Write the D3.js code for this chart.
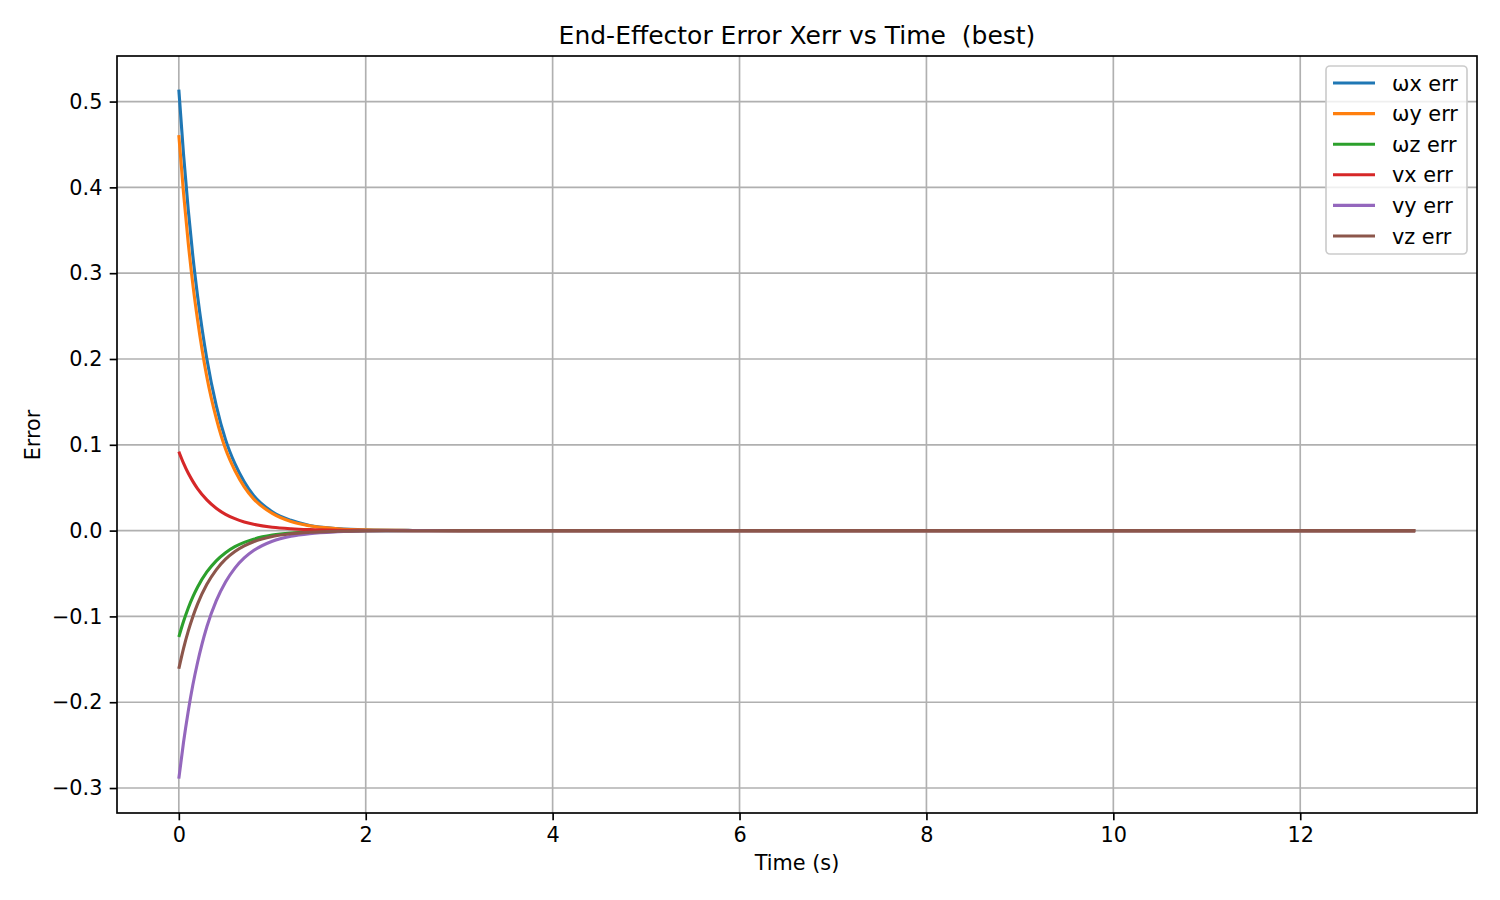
<!DOCTYPE html>
<html><head><meta charset="utf-8">
<script src="https://cdn.jsdelivr.net/npm/d3@7"></script>
<style>body{margin:0;background:#fff;} svg text{font-family:"DejaVu Sans",sans-serif;}</style>
</head><body><svg id="c" width="1500" height="900"></svg>
<script>
const times = [0, 0.05, 0.1, 0.15, 0.2, 0.3, 0.4, 0.5, 0.6, 0.7, 0.8, 1.0, 1.2, 1.4, 1.7, 2.0, 2.5, 3.0, 13.23];
const wxErr = [0.514, 0.439, 0.375, 0.320, 0.274, 0.200, 0.146, 0.106, 0.078, 0.057, 0.041, 0.022, 0.012, 0.006, 0.0024, 0.0009, 0.0002, 0, 0];
const wyErr = [0.461, 0.394, 0.336, 0.287, 0.246, 0.179, 0.131, 0.095, 0.070, 0.051, 0.037, 0.020, 0.0105, 0.0056, 0.0022, 0.0008, 0.0002, 0, 0];
const wzErr = [-0.124, -0.106, -0.0905, -0.0773, -0.066, -0.0482, -0.0352, -0.0257, -0.0187, -0.0137, -0.010, -0.0053, -0.0028, -0.0015, -0.0006, -0.0002, 0, 0, 0];
const vxErr = [0.092, 0.0786, 0.0671, 0.0574, 0.049, 0.0358, 0.0261, 0.019, 0.0139, 0.0101, 0.0074, 0.0039, 0.0021, 0.0011, 0.0004, 0.0002, 0, 0, 0];
const vyErr = [-0.289, -0.247, -0.211, -0.180, -0.154, -0.112, -0.082, -0.060, -0.0437, -0.0319, -0.0233, -0.0124, -0.0066, -0.0035, -0.0014, -0.0005, -0.0001, 0, 0];
const vzErr = [-0.161, -0.1375, -0.1175, -0.1004, -0.0857, -0.0626, -0.0457, -0.0333, -0.0243, -0.0178, -0.013, -0.0069, -0.0037, -0.002, -0.0008, -0.0003, -0.0001, 0, 0];
const seriesNames = ["ωx err", "ωy err", "ωz err", "vx err", "vy err", "vz err"];
const seriesColors = ["#1f77b4", "#ff7f0e", "#2ca02c", "#d62728", "#9467bd", "#8c564b"];
const xTicks = [0, 2, 4, 6, 8, 10, 12];
const yTicks = [-0.3, -0.2, -0.1, 0.0, 0.1, 0.2, 0.3, 0.4, 0.5];

const seriesValues = [wxErr, wyErr, wzErr, vxErr, vyErr, vzErr];
const svg = d3.select("#c");
const L = 117, R = 1477, T = 56, B = 813;
const x = d3.scaleLinear().domain([-0.6615, 13.8915]).range([L, R]);
const y = d3.scaleLinear().domain([-0.3291, 0.5531]).range([B, T]);
const fmt = d3.format(".1f");
const FS = "20.8px", TFS = "25px";

// grid
const g = svg.append("g");
g.selectAll("line.vx").data(xTicks).join("line")
  .attr("x1", d => x(d)).attr("x2", d => x(d)).attr("y1", T).attr("y2", B)
  .attr("stroke", "#b0b0b0").attr("stroke-width", 1.67);
g.selectAll("line.hy").data(yTicks).join("line").attr("class","hy")
  .attr("x1", L).attr("x2", R).attr("y1", d => y(d)).attr("y2", d => y(d))
  .attr("stroke", "#b0b0b0").attr("stroke-width", 1.67);

// lines
const line = d3.line().x((d, i) => x(times[i])).y(d => y(d)).curve(d3.curveMonotoneX);
seriesValues.forEach((vals, k) => {
  svg.append("path").datum(vals).attr("d", line)
    .attr("fill", "none").attr("stroke", seriesColors[k]).attr("stroke-width", 3.1);
});

// axes
const xa = svg.append("g").attr("transform", `translate(0,${B})`)
  .call(d3.axisBottom(x).tickValues(xTicks).tickSize(7.3).tickPadding(6.5).tickFormat(d3.format("d")));
const ya = svg.append("g").attr("transform", `translate(${L},0)`)
  .call(d3.axisLeft(y).tickValues(yTicks).tickSize(7.3).tickPadding(7.3).tickFormat(fmt));
[xa, ya].forEach(a => {
  a.attr("font-size", null).attr("font-family", null);
  a.select(".domain").remove();
  a.selectAll(".tick line").attr("stroke", "#000").attr("stroke-width", 1.67);
  a.selectAll(".tick text").attr("fill", "#000").style("font-size", FS);
});

svg.append("rect").attr("x", L).attr("y", T).attr("width", R - L).attr("height", B - T)
  .attr("fill", "none").attr("stroke", "#000").attr("stroke-width", 1.67);

// titles
svg.append("text").attr("x", (L + R) / 2).attr("y", 44).attr("text-anchor", "middle")
  .style("font-size", TFS).text("End-Effector Error Xerr vs Time\u00a0\u00a0(best)");
svg.append("text").attr("x", (L + R) / 2).attr("y", 870).attr("text-anchor", "middle")
  .style("font-size", FS).text("Time (s)");
svg.append("text").attr("transform", "translate(40,435) rotate(-90)").attr("text-anchor", "middle")
  .style("font-size", FS).text("Error");

// legend
const lg = svg.append("g");
lg.append("rect").attr("x", 1326).attr("y", 66).attr("width", 141).attr("height", 188)
  .attr("rx", 4).attr("fill", "#fff").attr("fill-opacity", 0.8).attr("stroke", "#cccccc").attr("stroke-width", 1.67);
seriesNames.forEach((n, k) => {
  const yy = 83 + k * 30.6;
  lg.append("line").attr("x1", 1333).attr("x2", 1375).attr("y1", yy).attr("y2", yy)
    .attr("stroke", seriesColors[k]).attr("stroke-width", 3.1);
  lg.append("text").attr("x", 1392).attr("y", yy + 7.5).style("font-size", FS).text(n);
});
</script></body></html>
